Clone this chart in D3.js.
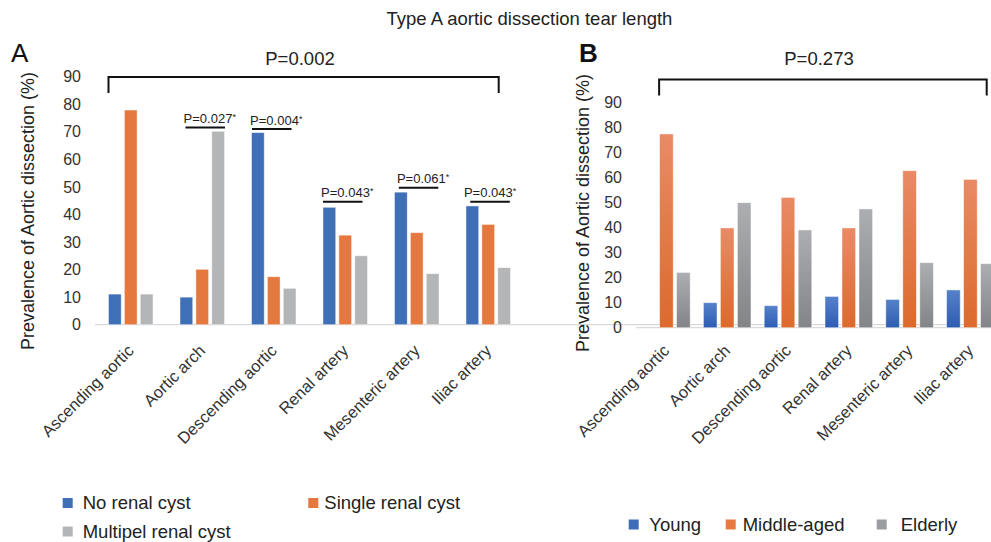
<!DOCTYPE html>
<html>
<head>
<meta charset="utf-8">
<script src="https://cdn.jsdelivr.net/npm/d3@7"></script>
<style>
  html, body { margin: 0; padding: 0; background: #fff; }
  svg { display: block; font-family: "Liberation Sans", Arial, Helvetica, sans-serif; }
</style>
</head>
<body>
<svg id="chart" width="991" height="542"></svg>
<script>
// ---- data ----
const categories = ["Ascending aortic", "Aortic arch", "Descending aortic", "Renal artery", "Mesenteric artery", "Iliac artery"];
const yTicks = [0, 10, 20, 30, 40, 50, 60, 70, 80, 90];

const seriesA = ["No renal cyst", "Single renal cyst", "Multipel renal cyst"];
const noRenalCyst = [11.1, 10.0, 69.7, 42.6, 48.1, 43.1];
const singleRenalCyst = [77.9, 20.1, 17.4, 32.5, 33.4, 36.4];
const multipleRenalCyst = [11.1, 70.2, 13.2, 25.0, 18.5, 20.7];
const pLabelsA = ["", "P=0.027", "P=0.004", "P=0.043", "P=0.061", "P=0.043"];
const pLevelA = [0, 71.6, 71.0, 44.6, 49.7, 44.6];   // value level of the significance bar
const overallPA = "P=0.002";

const seriesB = ["Young", "Middle-aged", "Elderly"];
const young = [0, 10.0, 8.8, 12.5, 11.3, 15.1];
const middleAged = [77.5, 39.9, 52.1, 39.9, 62.8, 59.3];
const elderly = [22.1, 50.0, 39.1, 47.5, 26.0, 25.6];
const overallPB = "P=0.273";

const svg = d3.select("#chart");
const defs = svg.append("defs");

// gradients for panel B
const gradB = [
  {id: "gBlue", top: "#5682CA", bot: "#2D5CB2"},
  {id: "gOrange", top: "#E98A66", bot: "#DC6A2C"},
  {id: "gGray", top: "#ADAEB1", bot: "#838488"}
];
gradB.forEach(g => {
  const lg = defs.append("linearGradient").attr("id", g.id).attr("x1", 0).attr("y1", 0).attr("x2", 0).attr("y2", 1);
  lg.append("stop").attr("offset", "0%").attr("stop-color", g.top);
  lg.append("stop").attr("offset", "45%").attr("stop-color", d3.interpolateRgb(g.top, g.bot)(0.45));
  lg.append("stop").attr("offset", "100%").attr("stop-color", g.bot);
});

// title
svg.append("text").attr("x", 386.5).attr("y", 25).attr("text-anchor", "start")
  .attr("font-size", 18.5).attr("fill", "#222").text("Type A aortic dissection tear length");

function panel(opt) {
  const g = svg.append("g");
  const x = d3.scaleBand().domain(categories).range(opt.xRange).paddingInner(0).paddingOuter(0);
  const xi = d3.scaleBand().domain(opt.series).range([0, x.bandwidth()]).paddingInner(0.2).paddingOuter(opt.po);
  const y = d3.scaleLinear().domain([0, 90]).range(opt.yRange);

  // panel letter
  g.append("text").attr("x", opt.letterX).attr("y", 62).attr("font-size", 26)
    .attr("font-weight", opt.letterBold ? "bold" : "normal").attr("fill", "#111").text(opt.letter);

  // y ticks (labels only)
  const yAxis = g.append("g").attr("transform", `translate(${opt.xRange[0]},0)`)
    .call(d3.axisLeft(y).tickValues(yTicks).tickSize(0).tickPadding(opt.tickPad));
  yAxis.select(".domain").remove();
  yAxis.selectAll("text").attr("font-size", 16).attr("fill", "#333")
    .attr("font-family", '"Liberation Sans", Arial, Helvetica, sans-serif');

  // y title
  g.append("text").attr("transform", `translate(${opt.titleX},${opt.titleY}) rotate(-90)`)
    .attr("text-anchor", "middle").attr("font-size", 18).attr("fill", "#222")
    .text("Prevalence of Aortic dissection (%)");

  // baseline
  g.append("line").attr("x1", opt.xRange[0]).attr("x2", 991).attr("y1", y(0)).attr("y2", y(0))
    .attr("stroke", "#d9d9d9").attr("stroke-width", 1.2);

  // bars
  const data = [];
  categories.forEach((c, i) => opt.series.forEach((s, j) => data.push({c, s, j, v: opt.values[j][i]})));
  g.append("g").selectAll("rect").data(data.filter(d => d.v > 0)).join("rect")
    .attr("x", d => x(d.c) + xi(d.s))
    .attr("y", d => y(d.v))
    .attr("width", xi.bandwidth())
    .attr("height", d => y(0) - y(d.v))
    .attr("fill", d => opt.fills[d.j])
    .attr("stroke", "#ffffff").attr("stroke-opacity", 0.55).attr("stroke-width", 0.8);

  // category labels
  g.append("g").selectAll("text").data(categories).join("text")
    .attr("transform", c => `translate(${x(c) + x.bandwidth() / 2 + 4},${y(0) + opt.labDy}) rotate(-45)`)
    .attr("text-anchor", "end").attr("font-size", 16.5).attr("fill", "#333").text(c => c);

  // overall bracket
  const bx0 = x(categories[0]) + xi(opt.series[0]) + (opt.bracketStartOff || 0);
  const bx1 = opt.bracketEnd;
  const by = opt.bracketY;
  g.append("path").attr("d", `M${bx0},${by + 16}V${by}H${bx1}V${by + 16}`)
    .attr("fill", "none").attr("stroke", "#111").attr("stroke-width", 2);
  g.append("text").attr("x", opt.pTextX).attr("y", 65).attr("text-anchor", "middle")
    .attr("font-size", 18.5).attr("fill", "#222").text(opt.overallP);

  return {g, x, xi, y};
}

const A = panel({
  letter: "A", letterX: 11, letterBold: false,
  xRange: [95, 524], yRange: [324.7, 76.7], po: 0.85, tickPad: 14,
  titleX: 34, titleY: 211, labDy: 27,
  series: seriesA, values: [noRenalCyst, singleRenalCyst, multipleRenalCyst],
  fills: ["#3F6FB6", "#E4783F", "#B4B5B7"],
  bracketY: 77, bracketEnd: 498.7, pTextX: 300, overallP: overallPA
});

// significance bars in A
const pShiftA = [0, 5.5, 0.5, 0, 4.3, 4.3];
pLabelsA.forEach((p, i) => {
  if (!p) return;
  const c = categories[i];
  const x0 = A.x(c) + A.xi(seriesA[0]) + pShiftA[i];
  const yy = A.y(pLevelA[i]);
  A.g.append("line").attr("x1", x0).attr("x2", x0 + 39.5).attr("y1", yy).attr("y2", yy)
    .attr("stroke", "#111").attr("stroke-width", 2);
  const t = A.g.append("text").attr("x", x0 + 19.75 + (i === 5 ? 0 : 4.5)).attr("y", yy - 4.5)
    .attr("text-anchor", "middle").attr("font-size", 13).attr("fill", "#222");
  t.append("tspan").text(p);
  t.append("tspan").attr("font-size", 9).attr("dy", -3).text("*");
});

const B = panel({
  letter: "B", letterX: 579, letterBold: true,
  xRange: [636, 1000.8], yRange: [327.7, 102.7], po: 0.39, tickPad: 14,
  titleX: 588.5, titleY: 213, labDy: 24,
  series: seriesB, values: [young, middleAged, elderly],
  fills: ["url(#gBlue)", "url(#gOrange)", "url(#gGray)"],
  bracketY: 79.5, bracketEnd: 986.7, pTextX: 819, overallP: overallPB,
  bracketStartOff: 16.5
});

// legends
function legend(items) {
  const lg = svg.append("g");
  items.forEach(d => {
    lg.append("rect").attr("x", d.x).attr("y", d.y - 5).attr("width", 10).attr("height", 10).attr("fill", d.color);
    lg.append("text").attr("x", d.x + d.tdx).attr("y", d.y).attr("dy", "0.35em")
      .attr("font-size", 18.5).attr("fill", "#222").text(d.label);
  });
}
legend([
  {label: seriesA[0], color: "#3F6FB6", x: 62.7, y: 503, tdx: 20},
  {label: seriesA[1], color: "#E4783F", x: 308.3, y: 503, tdx: 16},
  {label: seriesA[2], color: "#B4B5B7", x: 62.7, y: 531.5, tdx: 20}
]);
legend([
  {label: seriesB[0], color: "#3D6DB8", x: 628.7, y: 524.5, tdx: 20.6},
  {label: seriesB[1], color: "#E97A3F", x: 725.7, y: 524.5, tdx: 17},
  {label: seriesB[2], color: "#9C9DA0", x: 876.7, y: 524.5, tdx: 24}
]);
</script>
</body>
</html>
